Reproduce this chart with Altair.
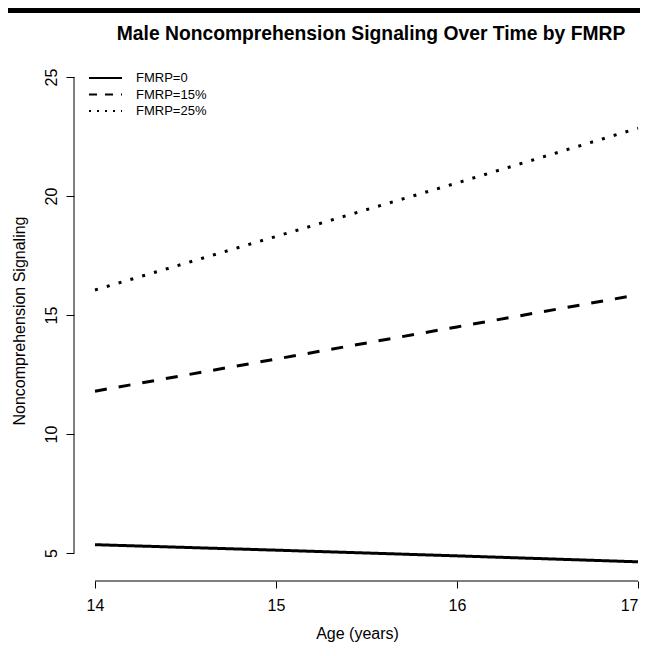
import altair as alt
import pandas as pd

# ---- data ----
ages = [14, 15, 16, 17]
fmrp0 = [5.35, 5.12, 4.88, 4.63]
fmrp15 = [11.8, 13.15, 14.5, 15.85]
fmrp25 = [16.05, 18.3, 20.55, 22.85]
series_labels = ["FMRP=0", "FMRP=15%", "FMRP=25%"]
x_ticks = [14, 15, 16, 17]
y_ticks = [5, 10, 15, 20, 25]

rows = []
for lab, vals in zip(series_labels, [fmrp0, fmrp15, fmrp25]):
    for a, v in zip(ages, vals):
        rows.append({"age": a, "value": v, "series": lab})
df = pd.DataFrame(rows)

FONT = "Liberation Sans"
W, H = 566, 521
AX_FS = 16

xscale = alt.Scale(domain=[13.884, 17.011], nice=False, zero=False)
yscale = alt.Scale(domain=[3.824, 25.714], nice=False, zero=False)

x_axis = alt.Axis(values=x_ticks, domain=False, grid=False, tickSize=7,
                  tickColor="black", tickWidth=1, labelFont=FONT,
                  labelFontSize=AX_FS, labelColor="black", labelPadding=9,
                  labelFlush=6,
                  title="Age (years)", titleFont=FONT, titleFontSize=AX_FS,
                  titleFontWeight="normal", titleColor="black",
                  titlePadding=12, format="d")
y_axis = alt.Axis(values=y_ticks, domain=False, grid=False, tickSize=8,
                  tickColor="black", tickWidth=1, labelAngle=270,
                  labelAlign="center", labelBaseline="bottom",
                  labelFont=FONT, labelFontSize=AX_FS, labelColor="black",
                  labelPadding=7, title="Noncomprehension Signaling",
                  titleFont=FONT, titleFontSize=AX_FS, titleFontWeight="normal",
                  titleColor="black", titlePadding=16, format="d")

base = alt.Chart(df)

lines = base.mark_line(color="black", strokeWidth=3, strokeCap="butt", clip=True).encode(
    x=alt.X("age:Q", scale=xscale, axis=x_axis),
    y=alt.Y("value:Q", scale=yscale, axis=y_axis),
    strokeDash=alt.StrokeDash("series:N",
                              scale=alt.Scale(domain=series_labels,
                                              range=[[1, 0], [12, 12], [3, 9.3]]),
                              legend=None),
    detail="series:N",
)

legend_layer = base.mark_line(opacity=0, strokeWidth=2).encode(
    x=alt.X("age:Q", scale=xscale, axis=x_axis),
    y=alt.Y("value:Q", scale=yscale, axis=y_axis),
    strokeDash=alt.StrokeDash("series:N",
                              scale=alt.Scale(domain=series_labels,
                                              range=[[1, 0], [8, 8], [2, 6]]),
                              legend=alt.Legend(title=None, orient="none",
                                                legendX=14, legendY=10,
                                                symbolType="stroke", symbolSize=1089,
                                                symbolStrokeWidth=2, symbolOpacity=1,
                                                symbolStrokeColor="black",
                                                labelFont=FONT, labelFontSize=13,
                                                labelColor="black", labelOffset=13,
                                                clipHeight=16, rowPadding=0.5,
                                                padding=0)),
    detail="series:N",
)

yline_df = pd.DataFrame({"value": [y_ticks[0]], "value_hi": [y_ticks[-1]]})
xline_df = pd.DataFrame({"age": [x_ticks[0]], "age_hi": [x_ticks[-1]]})

y_axis_line = alt.Chart(yline_df).mark_rule(color="black", strokeWidth=1).encode(
    x=alt.value(0),
    y=alt.Y("value:Q", scale=yscale, axis=y_axis),
    y2="value_hi:Q",
)
x_axis_line = alt.Chart(xline_df).mark_rule(color="black", strokeWidth=1).encode(
    y=alt.value(H),
    x=alt.X("age:Q", scale=xscale, axis=x_axis),
    x2="age_hi:Q",
)
top_bar = alt.Chart(xline_df).mark_rect(color="black").encode(
    x=alt.value(-66), x2=alt.value(W),
    y=alt.value(-52), y2=alt.value(-47),
)

chart = alt.layer(lines, legend_layer, y_axis_line, x_axis_line, top_bar).resolve_scale(
    strokeDash="independent"
).properties(
    width=W, height=H,
    padding={"left": 66, "top": 52, "right": 0, "bottom": 63},
    autosize=alt.AutoSizeParams(type="none"),
    title=alt.TitleParams("Male Noncomprehension Signaling Over Time by FMRP",
                          font=FONT, fontSize=19.3, fontWeight="bold", color="black",
                          anchor="middle", dx=14, offset=-36),
).configure_view(stroke=None)

chart.save("out.html", embed_options={"renderer": "svg", "actions": False})
